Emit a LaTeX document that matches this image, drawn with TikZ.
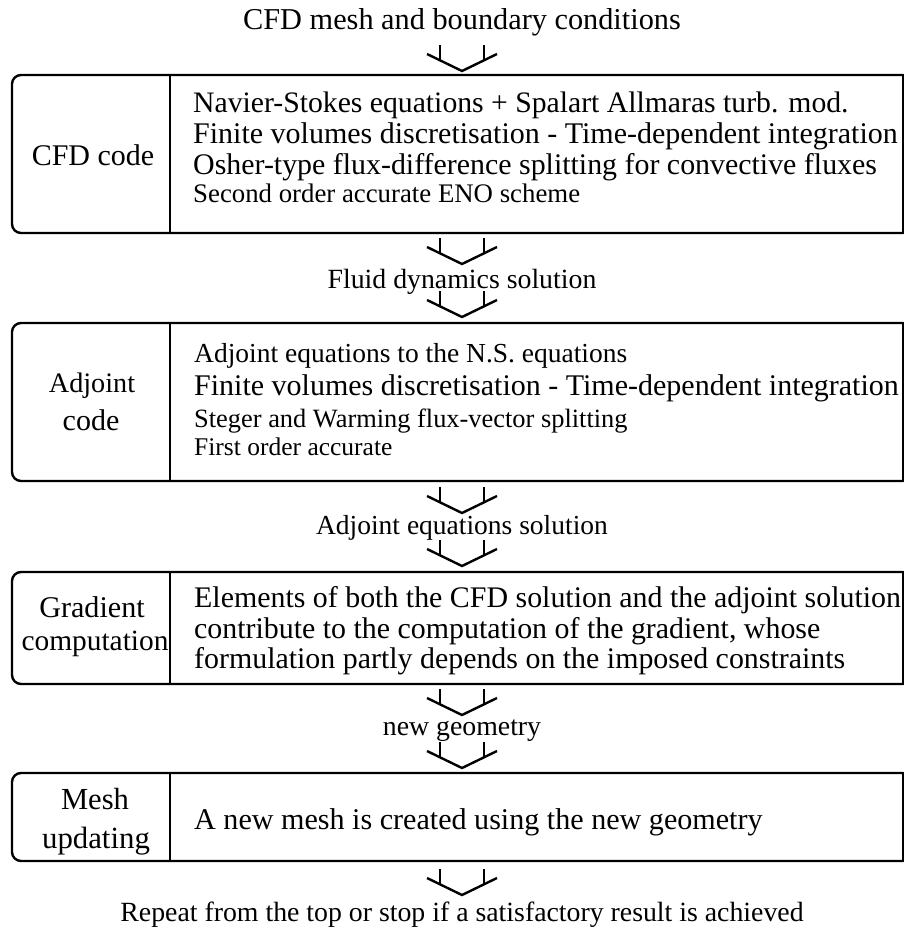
\documentclass[tikz,border=0pt]{standalone}
\usepackage{fontspec}
\setmainfont{Liberation Serif}
\begin{document}
\begin{tikzpicture}[x=1pt,y=-1pt,line width=2.4pt,
  sz/.style={inner sep=0pt,font=\fontsize{#1}{#1}\selectfont},
  rowtext/.style={sz=#1,anchor=base west},
  rowtext/.default=29.9,
  lab/.style={sz=#1,anchor=base},
  lab/.default=30,
  flow/.style={sz=#1,anchor=base},
  flow/.default=27.8,
  downmark/.pic={
    \draw[line join=miter] (-35,9) -- (0,26) -- (35,9);
    \draw (-22,0) -- (-22,16);
    \draw (22,0) -- (22,16);
  }]
\useasboundingbox (0,0) rectangle (905,937);

% top
\node[flow=30.3] (t0) at (462,29) {CFD mesh and boundary conditions};
\pic at (462,45) {downmark};

% box 1
\draw[rounded corners=9pt] (903,233) -- (12,233) -- (12,75) -- (903,75);
\draw[line cap=rect] (903,75) -- (903,233);
\draw (170,75) -- (170,233);
\node[lab=30] (l1) at (93,165) {CFD code};
\node[rowtext=29.7] (r11) at (192,112) {Navier-Stokes equations + Spalart Allmaras turb. mod.};
\node[rowtext=30.0] (r12) at (192,143) {Finite volumes discretisation - Time-dependent integration};
\node[rowtext=29.9] (r13) at (192,174) {Osher-type flux-difference splitting for convective fluxes};
\node[rowtext=26.8] (r14) at (192,202) {Second order accurate ENO scheme};

\pic at (462,238) {downmark};
\node[flow] (t1) at (462,288) {Fluid dynamics solution};
\pic at (462,291) {downmark};

% box 2
\draw[rounded corners=9pt] (903,481) -- (12,481) -- (12,323) -- (903,323);
\draw[line cap=rect] (903,323) -- (903,481);
\draw (170,323) -- (170,481);
\node[lab=28.2] (l2a) at (92,392) {Adjoint};
\node[lab=30] (l2b) at (91,430) {code};
\node[rowtext=27.5] (r21) at (193,362) {Adjoint equations to the N.S. equations};
\node[rowtext=30.0] (r22) at (193,395) {Finite volumes discretisation - Time-dependent integration};
\node[rowtext=26.4] (r23) at (193,427) {Steger and Warming flux-vector splitting};
\node[rowtext=25.5] (r24) at (193,455) {First order accurate};

\pic at (462,487) {downmark};
\node[flow=27.5] (t2) at (462,534) {Adjoint equations solution};
\pic at (462,540) {downmark};

% box 3
\draw[rounded corners=9pt] (903,684) -- (12,684) -- (12,572) -- (903,572);
\draw[line cap=rect] (903,572) -- (903,684);
\draw (170,572) -- (170,684);
\node[lab=30.1] (l3a) at (92,617) {Gradient};
\node[lab=29.4] (l3b) at (95,650) {computation};
\node[rowtext] (r31) at (193,607) {Elements of both the CFD solution and the adjoint solution};
\node[rowtext] (r32) at (193,638) {contribute to the computation of the gradient, whose};
\node[rowtext] (r33) at (193,668) {formulation partly depends on the imposed constraints};

\pic at (462,689) {downmark};
\node[flow] (t3) at (462,735) {new geometry};
\pic at (462,742) {downmark};

% box 4
\draw[rounded corners=9pt] (903,861) -- (12,861) -- (12,773) -- (903,773);
\draw[line cap=rect] (903,773) -- (903,861);
\draw (170,773) -- (170,861);
\node[lab=30.6] (l4a) at (95,809) {Mesh};
\node[lab=30.8] (l4b) at (96,848) {updating};
\node[rowtext=30.1] (r41) at (193,829) {A new mesh is created using the new geometry};

\pic at (462,869) {downmark};
\node[flow] (t4) at (462,921) {Repeat from the top or stop if a satisfactory result is achieved};
\end{tikzpicture}
\end{document}
